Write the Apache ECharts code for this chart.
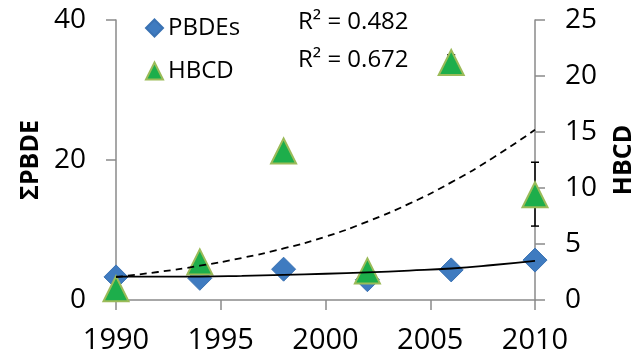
<!DOCTYPE html>
<html>
<head>
<meta charset="utf-8">
<script src="https://cdn.jsdelivr.net/npm/echarts@6/dist/echarts.min.js"></script>
<style>
html,body{margin:0;padding:0;background:#fff;}
#chart{width:644px;height:358px;}
</style>
</head>
<body>
<div id="chart"></div>
<script>
// ---- data ----
const years = [1990, 1994, 1998, 2002, 2006, 2010];
const pbdes = [3.3, 3.1, 4.4, 2.9, 4.3, 5.7];
const hbcd  = [1.0, 3.4, 13.3, 2.6, 21.2, 9.4];
const hbcdErrYears = [2006, 2010];
const hbcdErrLow   = [20.6, 6.6];
const hbcdErrHigh  = [21.9, 12.3];
const trendYears = [1990, 1992, 1994, 1996, 1998, 2000, 2002, 2004, 2006, 2008, 2010];
const pbdeTrend  = [3.35, 3.33, 3.35, 3.45, 3.6, 3.75, 3.95, 4.2, 4.5, 5.0, 5.6];
const hbcdTrend  = [2.05, 2.5, 3.06, 3.75, 4.6, 5.65, 7.0, 8.6, 10.5, 12.7, 15.2];
const xTicks = [1990, 1995, 2000, 2005, 2010];
const leftTicks = [0, 20, 40];
const rightTicks = [0, 5, 10, 15, 20, 25];
const r2Labels = ['R² = 0.482', 'R² = 0.672'];

const FONT = 'Open Sans';
const axisGray = '#8a8a8a';

const chart = echarts.init(document.getElementById('chart'), null, {renderer: 'canvas'});
const pairs = (xs, ys) => xs.map((x, i) => [x, ys[i]]);

chart.setOption({
  animation: false,
  backgroundColor: '#fff',
  textStyle: {fontFamily: FONT, color: '#000'},
  grid: {left: 116, right: 109, top: 20, bottom: 58},
  legend: {
    orient: 'vertical', left: 140, top: 10, itemGap: 17,
    itemWidth: 17, itemHeight: 17,
    textStyle: {fontFamily: FONT, fontSize: 24, color: '#000', lineHeight: 26},
    data: ['PBDEs', 'HBCD']
  },
  graphic: [
    {type: 'text', left: 298, top: 10, style: {text: r2Labels[0], font: '24px "Open Sans"', fill: '#000'}},
    {type: 'text', left: 298, top: 48, style: {text: r2Labels[1], font: '24px "Open Sans"', fill: '#000'}}
  ],
  xAxis: {
    type: 'value', min: xTicks[0], max: xTicks[xTicks.length - 1], interval: 5,
    splitLine: {show: false},
    axisLine: {lineStyle: {color: axisGray, width: 1.5}},
    axisTick: {show: true, length: 10, lineStyle: {color: axisGray, width: 1.5}},
    axisLabel: {fontSize: 29, fontFamily: FONT, color: '#000', margin: 26, formatter: v => String(v)}
  },
  yAxis: [
    {
      type: 'value', min: leftTicks[0], max: leftTicks[leftTicks.length - 1], interval: 20,
      name: 'ΣPBDE', nameLocation: 'middle', nameGap: 61, nameRotate: 90,
      nameTextStyle: {fontSize: 25, fontWeight: 'bold', fontFamily: FONT, color: '#000'},
      splitLine: {show: false},
      axisLine: {show: true, lineStyle: {color: axisGray, width: 1.5}},
      axisTick: {show: true, length: 10, lineStyle: {color: axisGray, width: 1.5}},
      axisLabel: {fontSize: 28, fontFamily: FONT, color: '#000', margin: 30}
    },
    {
      type: 'value', position: 'right', min: rightTicks[0], max: rightTicks[rightTicks.length - 1], interval: 5,
      name: 'HBCD', nameLocation: 'middle', nameGap: 76, nameRotate: 90,
      nameTextStyle: {fontSize: 25, fontWeight: 'bold', fontFamily: FONT, color: '#000'},
      splitLine: {show: false},
      axisLine: {show: true, lineStyle: {color: axisGray, width: 1.5}},
      axisTick: {show: true, length: 10, lineStyle: {color: axisGray, width: 1.5}},
      axisLabel: {fontSize: 28, fontFamily: FONT, color: '#000', margin: 30}
    }
  ],
  series: [
    {
      name: 'PBDEs', type: 'scatter', yAxisIndex: 0, z: 2,
      symbol: 'diamond', symbolSize: 24,
      itemStyle: {color: '#3F7BC0', borderColor: '#3A72B3', borderWidth: 1, opacity: 1},
      data: pairs(years, pbdes)
    },
    {
      name: 'HBCD-err', type: 'custom', yAxisIndex: 1, z: 3,
      data: hbcdErrYears.map((y, i) => [y, hbcdErrLow[i], hbcdErrHigh[i]]),
      renderItem: function (params, api) {
        const lo = api.coord([api.value(0), api.value(1)]);
        const hi = api.coord([api.value(0), api.value(2)]);
        const w = 4;
        const st = {stroke: '#000', lineWidth: 1.5};
        return {type: 'group', children: [
          {type: 'line', shape: {x1: lo[0], y1: lo[1], x2: hi[0], y2: hi[1]}, style: st},
          {type: 'line', shape: {x1: lo[0] - w, y1: lo[1], x2: lo[0] + w, y2: lo[1]}, style: st},
          {type: 'line', shape: {x1: hi[0] - w, y1: hi[1], x2: hi[0] + w, y2: hi[1]}, style: st}
        ]};
      }
    },
    {
      name: 'HBCD', type: 'scatter', yAxisIndex: 1, z: 4,
      symbol: 'triangle', symbolSize: 25,
      itemStyle: {color: '#1DAE4B', borderColor: '#9BBB59', borderWidth: 2, opacity: 1},
      data: pairs(years, hbcd)
    },
    {
      name: 'PBDE trend', type: 'line', yAxisIndex: 0, z: 5, smooth: true,
      symbol: 'none', lineStyle: {color: '#000', width: 1.8},
      data: pairs(trendYears, pbdeTrend)
    },
    {
      name: 'HBCD trend', type: 'line', yAxisIndex: 1, z: 5, smooth: true,
      symbol: 'none', lineStyle: {color: '#000', width: 1.8, type: [7, 5]},
      data: pairs(trendYears, hbcdTrend)
    }
  ]
});
</script>
</body>
</html>
